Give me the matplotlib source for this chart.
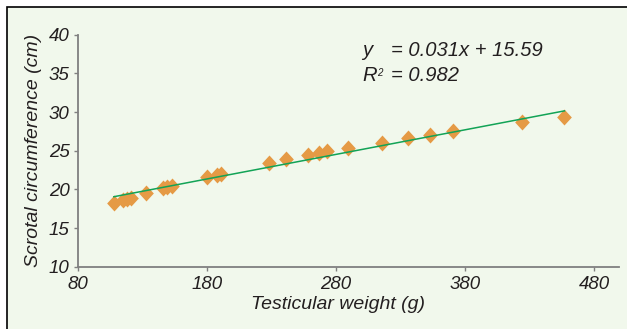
import matplotlib.pyplot as plt
from matplotlib.patches import Rectangle

# testicular weight (g) vs scrotal circumference (cm)
weight = [108, 115, 118, 121, 133, 146, 149, 153, 180, 188, 191,
          228, 241, 258, 267, 273, 289, 316, 336, 353, 371, 424, 457]
circum = [18.2, 18.6, 18.8, 18.9, 19.5, 20.2, 20.3, 20.4, 21.6, 21.8, 22.0,
          23.4, 23.9, 24.4, 24.7, 24.9, 25.3, 26.0, 26.6, 27.0, 27.5, 28.7, 29.4]

# trend line end points as drawn
trend_x = [108, 457]
trend_y = [19.05, 30.15]

xticks = [80, 180, 280, 380, 480]
yticks = [10, 15, 20, 25, 30, 35, 40]

bg = '#f1f8ec'
plt.rcParams['font.family'] = ['Liberation Sans', 'DejaVu Sans']

fig = plt.figure(figsize=(6.27, 3.29), dpi=100)
fig.patch.set_facecolor('white')
# panel background with black frame (clipped right/bottom)
fig.patches.append(Rectangle((7 / 627, -0.1), 1.1, 1.1 - 7 / 329,
                             transform=fig.transFigure, facecolor=bg,
                             edgecolor='black', linewidth=1.2, zorder=-10))

ax = fig.add_axes([77.7 / 627, 1 - 266.7 / 329, 541 / 627, 232 / 329])
ax.patch.set_alpha(0)

diamond = [(0, 1), (0.92, 0), (0, -1), (-0.92, 0), (0, 1)]
ax.plot(weight, circum, linestyle='none', marker=diamond, markersize=11.5,
        color='#e59a45', markeredgewidth=0, zorder=2)
ax.plot(trend_x, trend_y, color='#12a356', linewidth=1.1, zorder=3)

ax.set_xlim(80, 499)
ax.set_ylim(10, 40)
ax.set_xticks(xticks)
ax.set_yticks(yticks)
for s in ['top', 'right']:
    ax.spines[s].set_visible(False)
for s in ['left', 'bottom']:
    ax.spines[s].set_color('#808080')
    ax.spines[s].set_linewidth(1.3)
ax.tick_params(colors='#808080', length=3, width=1, labelcolor='#231f20',
               labelsize=13.5)
ax.tick_params(axis='x', pad=4)
ax.tick_params(axis='y', pad=3)
for lab in ax.get_xticklabels() + ax.get_yticklabels():
    lab.set_style('italic')

ax.set_xlabel('Testicular weight (g)', fontsize=14, style='italic',
              color='#231f20')
ax.xaxis.set_label_coords(0.481, -0.125)
ax.set_ylabel('Scrotal circumference (cm)', fontsize=14, style='italic',
              color='#231f20')
ax.yaxis.set_label_coords(-0.066, 0.5)

# equation text
tc = '#231f20'
fs = 14.5
fig.text(362 / 627, 1 - 56 / 329, 'y', fontsize=fs, style='italic', color=tc)
fig.text(391 / 627, 1 - 56 / 329, '= 0.031x + 15.59', fontsize=fs,
         style='italic', color=tc)
fig.text(362 / 627, 1 - 81.5 / 329, 'R', fontsize=fs, style='italic', color=tc)
fig.text(377 / 627, 1 - 75.5 / 329, '2', fontsize=7, style='italic', color=tc)
fig.text(391 / 627, 1 - 81.5 / 329, '= 0.982', fontsize=fs, style='italic',
         color=tc)

fig.savefig('out.png', dpi=100, facecolor=fig.get_facecolor())
